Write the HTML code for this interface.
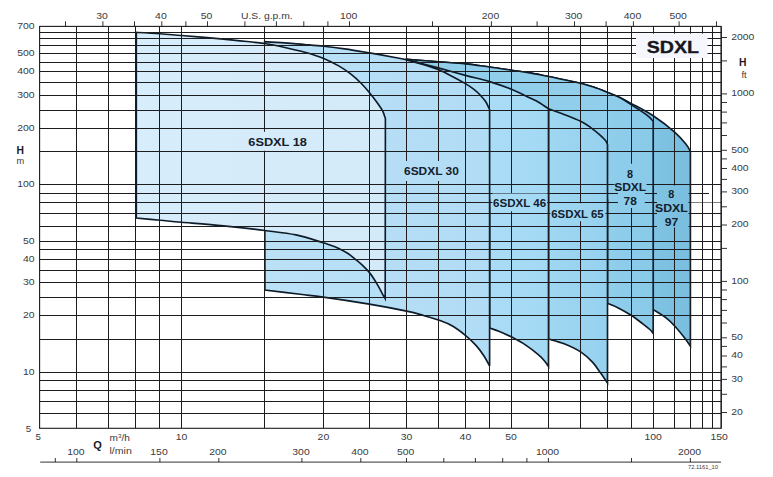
<!DOCTYPE html><html><head><meta charset="utf-8"><style>html,body{margin:0;padding:0;background:#fff}body{width:773px;height:477px;overflow:hidden;position:relative;font-family:"Liberation Sans",sans-serif}</style></head><body><svg width="773" height="477" viewBox="0 0 773 477" style="position:absolute;left:0;top:0">
<defs>
<path id="r97" d="M406.6,59.4 C411.9,59.8 428.4,61.0 438.2,61.7 C448.0,62.5 456.8,63.0 465.4,63.9 C473.9,64.8 481.8,66.0 489.5,67.0 C497.2,68.0 504.8,69.2 511.5,70.2 C518.2,71.2 523.8,71.9 530.0,72.9 C536.2,74.0 542.8,75.4 548.5,76.5 C554.2,77.6 558.6,78.6 564.0,79.7 C569.4,80.8 575.6,82.0 580.6,83.3 C585.6,84.6 589.7,85.8 594.2,87.3 C598.7,88.8 603.6,90.8 607.7,92.4 C611.8,94.0 614.7,95.2 618.7,97.1 C622.7,99.0 625.8,100.5 631.5,103.6 C637.2,106.7 646.0,111.0 653.2,115.8 C660.4,120.6 669.4,127.5 674.9,132.3 C680.4,137.1 683.6,141.3 686.2,144.5 C688.8,147.7 689.7,150.3 690.4,151.5 L690.4,346.2 C689.4,344.8 686.9,340.8 684.3,337.5 C681.7,334.2 678.0,329.6 674.9,326.2 C671.8,322.8 669.1,320.2 665.5,317.4 C661.9,314.6 655.2,310.9 653.2,309.6 L653.2,200.0 L406.6,200.0 Z"/>
<path id="r78" d="M406.6,59.4 C411.9,59.8 428.4,61.0 438.2,61.7 C448.0,62.5 456.8,63.0 465.4,63.9 C473.9,64.8 481.8,66.0 489.5,67.0 C497.2,68.0 504.8,69.2 511.5,70.2 C518.2,71.2 523.8,71.9 530.0,72.9 C536.2,74.0 542.8,75.4 548.5,76.5 C554.2,77.6 558.6,78.6 564.0,79.7 C569.4,80.8 575.6,82.0 580.6,83.3 C585.6,84.6 589.7,85.8 594.2,87.3 C598.7,88.8 603.6,90.8 607.7,92.4 C611.8,94.0 614.7,95.0 618.7,97.1 C622.7,99.2 626.9,101.9 631.5,104.9 C636.1,107.9 643.0,112.2 646.6,114.9 C650.2,117.6 652.1,120.2 653.2,121.2 L653.2,333.5 C652.7,332.9 652.1,331.6 650.4,330.0 C648.7,328.4 645.9,326.2 642.8,323.8 C639.6,321.4 635.6,318.1 631.5,315.5 C627.4,312.9 622.3,309.9 618.3,307.9 C614.3,305.9 609.3,304.1 607.5,303.4 L607.5,200.0 L406.6,200.0 Z"/>
<path id="r65" d="M548.5,108.8 C551.1,109.7 558.6,112.3 564.0,114.4 C569.4,116.5 576.2,119.1 580.6,121.2 C585.0,123.3 587.2,125.0 590.4,127.3 C593.6,129.6 597.3,132.6 599.8,134.8 C602.3,137.0 604.2,138.9 605.5,140.5 C606.8,142.1 607.2,143.9 607.5,144.6 L607.5,383.0 C606.3,381.3 602.9,376.2 600.4,372.8 C597.9,369.4 595.9,365.8 592.7,362.4 C589.5,358.9 585.8,355.2 581.0,352.1 C576.2,349.0 569.6,346.0 564.2,343.8 C558.8,341.6 551.1,339.8 548.5,339.0 L548.5,200.0 Z"/>
<path id="r46" d="M406.6,59.4 C409.0,60.0 415.7,61.9 421.0,63.3 C426.3,64.7 430.8,65.9 438.2,67.9 C445.6,69.9 456.8,73.1 465.4,75.4 C473.9,77.7 481.8,79.3 489.5,81.6 C497.2,83.9 504.8,86.6 511.5,89.3 C518.2,92.0 525.4,95.8 530.0,98.0 C534.6,100.2 536.3,100.9 539.4,102.7 C542.5,104.5 547.0,107.8 548.5,108.8 L548.5,366.5 C547.9,365.6 546.5,363.2 544.8,361.2 C543.1,359.2 541.5,357.4 538.3,354.7 C535.1,352.0 529.8,347.8 525.4,344.9 C521.0,342.0 516.0,339.4 511.7,337.1 C507.4,334.9 503.2,332.9 499.5,331.4 C495.8,329.9 491.2,328.6 489.6,328.0 L489.6,200.0 L406.6,200.0 Z"/>
<path id="r30" d="M264.6,41.6 C268.0,41.8 278.2,42.4 284.9,42.9 C291.6,43.4 298.3,43.9 304.8,44.5 C311.3,45.1 317.1,45.6 323.7,46.3 C330.3,47.0 337.0,47.8 344.6,48.9 C352.2,50.0 361.1,51.5 369.5,52.9 C377.9,54.3 388.8,56.3 395.0,57.5 C401.2,58.7 402.3,58.8 406.6,59.9 C410.9,61.0 417.1,62.9 421.0,64.0 C424.9,65.1 427.1,65.7 430.0,66.6 C432.9,67.5 434.8,68.1 438.2,69.6 C441.6,71.1 445.9,73.1 450.4,75.4 C454.9,77.7 461.5,81.3 465.4,83.6 C469.3,85.9 471.1,87.2 473.6,89.1 C476.1,91.0 478.3,93.0 480.4,95.2 C482.4,97.4 484.4,99.6 485.9,102.0 C487.4,104.4 489.0,108.2 489.6,109.5 L489.6,366.0 C488.7,364.3 486.2,359.4 484.0,356.0 C481.8,352.6 479.3,349.1 476.2,345.6 C473.1,342.2 469.3,338.5 465.4,335.3 C461.5,332.1 457.1,328.7 452.9,326.2 C448.7,323.7 444.8,322.2 440.0,320.5 C435.2,318.8 429.8,317.3 424.2,315.7 C418.6,314.1 415.8,313.0 406.6,311.1 C397.5,309.2 383.2,306.4 369.3,304.1 C355.4,301.8 334.9,298.7 323.3,297.1 C311.8,295.5 309.7,295.5 300.0,294.3 C290.3,293.1 270.8,290.7 264.9,290.0 Z"/>
<path id="r18" d="M136.3,32.4 C140.3,32.6 152.6,33.2 160.1,33.7 C167.6,34.2 171.0,34.6 181.6,35.5 C192.2,36.4 211.3,38.0 223.5,39.1 C235.7,40.2 248.2,41.7 255.0,42.4 C261.9,43.1 259.6,42.6 264.6,43.5 C269.6,44.4 278.2,46.0 284.9,47.5 C291.6,49.0 298.3,50.5 304.8,52.3 C311.3,54.1 318.1,56.2 323.7,58.5 C329.3,60.8 334.2,63.4 338.7,65.9 C343.2,68.5 347.0,71.0 350.6,73.8 C354.2,76.6 357.5,79.6 360.6,82.8 C363.8,86.0 366.9,89.5 369.5,92.7 C372.1,95.9 374.3,98.7 376.5,101.7 C378.7,104.7 381.0,107.9 382.5,110.7 C384.0,113.5 384.9,117.2 385.4,118.5 L385.2,298.6 C384.7,297.7 383.2,295.4 382.1,293.4 C381.0,291.4 379.8,288.8 378.4,286.4 C377.0,284.0 375.5,281.3 374.0,279.0 C372.5,276.7 371.2,274.7 369.3,272.4 C367.4,270.1 364.7,267.4 362.3,265.1 C359.9,262.8 357.3,260.8 354.9,258.8 C352.4,256.8 350.3,255.0 347.6,253.3 C344.9,251.6 341.7,249.9 338.8,248.5 C335.9,247.1 332.6,245.9 330.0,245.0 C327.4,244.1 329.0,244.5 323.3,242.8 C317.6,241.1 305.7,237.0 296.0,234.9 C286.3,232.8 277.0,232.0 264.9,230.5 C252.8,229.0 237.4,227.3 223.5,225.9 C209.6,224.5 192.2,223.2 181.6,222.3 C171.0,221.4 167.6,220.9 160.1,220.2 C152.6,219.5 140.3,218.4 136.3,218.1 Z"/>
<clipPath id="cr18"><rect x="245.0" y="131.8" width="67.0" height="19.0"/></clipPath>
<clipPath id="cr30"><rect x="401.5" y="161.0" width="60.0" height="20.0"/></clipPath>
<clipPath id="cr46"><rect x="492.5" y="193.6" width="54.6" height="17.6"/></clipPath>
<clipPath id="cr65"><rect x="550.4" y="203.3" width="55.0" height="18.0"/></clipPath>
<clipPath id="cr78"><rect x="618.0" y="163.7" width="26.8" height="44.2"/><rect x="614.5" y="181.0" width="32.0" height="11.6"/></clipPath>
<clipPath id="cr97"><rect x="657.0" y="185.4" width="31.5" height="42.0"/></clipPath>
<linearGradient id="gr18" gradientUnits="userSpaceOnUse" x1="136" y1="0" x2="385" y2="0"><stop offset="0" stop-color="#d8edfb"/><stop offset="1" stop-color="#d3eaf9"/></linearGradient>
<linearGradient id="gr30" gradientUnits="userSpaceOnUse" x1="264" y1="0" x2="490" y2="0"><stop offset="0" stop-color="#bbe1f7"/><stop offset="1" stop-color="#b1dcf5"/></linearGradient>
<linearGradient id="gr46" gradientUnits="userSpaceOnUse" x1="490" y1="0" x2="548" y2="0"><stop offset="0" stop-color="#abdcf6"/><stop offset="1" stop-color="#a2d9f4"/></linearGradient>
<linearGradient id="gr65" gradientUnits="userSpaceOnUse" x1="548" y1="0" x2="607" y2="0"><stop offset="0" stop-color="#a0d7f2"/><stop offset="1" stop-color="#95d1ee"/></linearGradient>
<linearGradient id="gr78" gradientUnits="userSpaceOnUse" x1="607" y1="0" x2="653" y2="0"><stop offset="0" stop-color="#90ceeb"/><stop offset="1" stop-color="#89cae9"/></linearGradient>
<linearGradient id="gr97" gradientUnits="userSpaceOnUse" x1="653" y1="0" x2="690" y2="0"><stop offset="0" stop-color="#80c3e2"/><stop offset="1" stop-color="#79bedf"/></linearGradient>
</defs>
<rect width="773" height="477" fill="#fff"/>
<use href="#r97" fill="url(#gr97)" stroke="#0e1c2a" stroke-width="1.65" stroke-linejoin="miter"/>
<use href="#r78" fill="url(#gr78)" stroke="#0e1c2a" stroke-width="1.65" stroke-linejoin="miter"/>
<use href="#r65" fill="url(#gr65)" stroke="#0e1c2a" stroke-width="1.65" stroke-linejoin="miter"/>
<use href="#r46" fill="url(#gr46)" stroke="#0e1c2a" stroke-width="1.65" stroke-linejoin="miter"/>
<use href="#r30" fill="url(#gr30)" stroke="#0e1c2a" stroke-width="1.65" stroke-linejoin="miter"/>
<use href="#r18" fill="url(#gr18)" stroke="#0e1c2a" stroke-width="1.65" stroke-linejoin="miter"/>
<path d="M39.6,32.2H721.2M39.6,38.8H721.2M39.6,45.8H721.2M39.6,53.6H721.2M39.6,62.2H721.2M39.6,71.8H721.2M39.6,82.6H721.2M39.6,95.2H721.2M39.6,110.0H721.2M39.6,128.2H721.2M39.6,151.6H721.2M39.6,184.7H721.2M39.6,193.2H721.2M39.6,202.8H721.2M39.6,213.7H721.2M39.6,226.3H721.2M39.6,241.1H721.2M39.6,249.7H721.2M39.6,259.3H721.2M39.6,270.1H721.2M39.6,282.7H721.2M39.6,297.5H721.2M39.6,315.7H721.2M39.6,339.1H721.2M39.6,372.2H721.2M39.6,380.7H721.2M39.6,390.3H721.2M39.6,401.2H721.2M39.6,413.8H721.2" stroke="#1c1c1e" stroke-width="1" fill="none" shape-rendering="crispEdges"/>
<rect x="709" y="192" width="11.6" height="2.4" fill="#fff"/>
<rect x="691.4" y="201.6" width="29.2" height="2.4" fill="#fff" fill-opacity="0.45"/>
<path d="M76.8,26.4V428.3M108.4,26.4V428.3M135.8,26.4V428.3M159.9,26.4V428.3M181.5,26.4V428.3M264.5,26.4V428.3M323.4,26.4V428.3M369.1,26.4V428.3M406.5,26.4V428.3M438.0,26.4V428.3M465.4,26.4V428.3M489.5,26.4V428.3M511.1,26.4V428.3M548.4,26.4V428.3M580.0,26.4V428.3M607.4,26.4V428.3M631.5,26.4V428.3M653.1,26.4V428.3M674.9,26.4V428.3M690.5,26.4V428.3M702.6,26.4V428.3M712.1,26.4V428.3" stroke="#1c1c1e" stroke-width="1" fill="none" shape-rendering="crispEdges"/>
<rect x="39.6" y="26.4" width="681.6" height="401.9" fill="none" stroke="#1c1c1e" stroke-width="1.1"/>
<use href="#r18" fill="url(#gr18)" clip-path="url(#cr18)"/>
<use href="#r30" fill="url(#gr30)" clip-path="url(#cr30)"/>
<use href="#r46" fill="url(#gr46)" clip-path="url(#cr46)"/>
<use href="#r65" fill="url(#gr65)" clip-path="url(#cr65)"/>
<use href="#r78" fill="url(#gr78)" clip-path="url(#cr78)"/>
<use href="#r97" fill="url(#gr97)" clip-path="url(#cr97)"/>
<path d="M721.2,26.4V428.3" stroke="#1c1c1e" stroke-width="1.1"/>
<rect x="636" y="33.6" width="71.5" height="24.4" fill="#f5f7fc"/>
<path d="M65.5,21.3V26.4M102.9,21.3V26.4M134.5,21.3V26.4M161.8,21.3V26.4M185.9,21.3V26.4M207.5,21.3V26.4M244.9,21.3V26.4M276.4,21.3V26.4M303.8,21.3V26.4M327.9,21.3V26.4M349.5,21.3V26.4M432.5,21.3V26.4M491.4,21.3V26.4M537.1,21.3V26.4M574.5,21.3V26.4M606.1,21.3V26.4M633.4,21.3V26.4M679.1,21.3V26.4M716.5,21.3V26.4M721.2,37.5H727.0M721.2,60.9H727.0M721.2,93.9H727.0M721.2,102.5H727.0M721.2,112.1H727.0M721.2,122.9H727.0M721.2,135.5H727.0M721.2,150.3H727.0M721.2,158.9H727.0M721.2,168.5H727.0M721.2,179.4H727.0M721.2,191.9H727.0M721.2,206.8H727.0M721.2,225.0H727.0M721.2,248.4H727.0M721.2,281.4H727.0M721.2,290.0H727.0M721.2,299.6H727.0M721.2,310.4H727.0M721.2,323.0H727.0M721.2,337.8H727.0M721.2,346.4H727.0M721.2,356.0H727.0M721.2,366.9H727.0M721.2,379.4H727.0M721.2,394.3H727.0M721.2,412.5H727.0M40.2,462.1H721.0M55.3,458.0V462.1M76.8,458.0V462.1M159.9,458.0V462.1M218.8,458.0V462.1M301.9,458.0V462.1M360.8,458.0V462.1M406.5,458.0V462.1M443.8,458.0V462.1M475.4,458.0V462.1M502.7,458.0V462.1M526.9,458.0V462.1M548.4,458.0V462.1M631.5,458.0V462.1M690.4,458.0V462.1" stroke="#1c1c1e" stroke-width="0.9" fill="none"/>
<g font-family="Liberation Sans, sans-serif">
<text x="34.6" y="28.8" font-size="9.7" font-weight="normal" fill="#3a3a40" text-anchor="end" textLength="17.4" lengthAdjust="spacingAndGlyphs">700</text>
<text x="34.6" y="56.2" font-size="9.7" font-weight="normal" fill="#3a3a40" text-anchor="end" textLength="17.4" lengthAdjust="spacingAndGlyphs">500</text>
<text x="34.6" y="74.4" font-size="9.7" font-weight="normal" fill="#3a3a40" text-anchor="end" textLength="17.4" lengthAdjust="spacingAndGlyphs">400</text>
<text x="34.6" y="97.8" font-size="9.7" font-weight="normal" fill="#3a3a40" text-anchor="end" textLength="17.4" lengthAdjust="spacingAndGlyphs">300</text>
<text x="34.6" y="130.8" font-size="9.7" font-weight="normal" fill="#3a3a40" text-anchor="end" textLength="17.4" lengthAdjust="spacingAndGlyphs">200</text>
<text x="34.6" y="187.3" font-size="9.7" font-weight="normal" fill="#3a3a40" text-anchor="end" textLength="17.4" lengthAdjust="spacingAndGlyphs">100</text>
<text x="34.6" y="243.7" font-size="9.7" font-weight="normal" fill="#3a3a40" text-anchor="end" textLength="11.6" lengthAdjust="spacingAndGlyphs">50</text>
<text x="34.6" y="261.9" font-size="9.7" font-weight="normal" fill="#3a3a40" text-anchor="end" textLength="11.6" lengthAdjust="spacingAndGlyphs">40</text>
<text x="34.6" y="285.3" font-size="9.7" font-weight="normal" fill="#3a3a40" text-anchor="end" textLength="11.6" lengthAdjust="spacingAndGlyphs">30</text>
<text x="34.6" y="318.3" font-size="9.7" font-weight="normal" fill="#3a3a40" text-anchor="end" textLength="11.6" lengthAdjust="spacingAndGlyphs">20</text>
<text x="34.6" y="374.8" font-size="9.7" font-weight="normal" fill="#3a3a40" text-anchor="end" textLength="11.6" lengthAdjust="spacingAndGlyphs">10</text>
<text x="31.2" y="431.6" font-size="9.7" font-weight="normal" fill="#3a3a40" text-anchor="end">5</text>
<text x="731.2" y="39.5" font-size="9.7" font-weight="normal" fill="#3a3a40" text-anchor="start" textLength="23.2" lengthAdjust="spacingAndGlyphs">2000</text>
<text x="731.2" y="96.2" font-size="9.7" font-weight="normal" fill="#3a3a40" text-anchor="start" textLength="23.2" lengthAdjust="spacingAndGlyphs">1000</text>
<text x="731.2" y="152.6" font-size="9.7" font-weight="normal" fill="#3a3a40" text-anchor="start" textLength="17.4" lengthAdjust="spacingAndGlyphs">500</text>
<text x="731.2" y="170.8" font-size="9.7" font-weight="normal" fill="#3a3a40" text-anchor="start" textLength="17.4" lengthAdjust="spacingAndGlyphs">400</text>
<text x="731.2" y="194.2" font-size="9.7" font-weight="normal" fill="#3a3a40" text-anchor="start" textLength="17.4" lengthAdjust="spacingAndGlyphs">300</text>
<text x="731.2" y="227.3" font-size="9.7" font-weight="normal" fill="#3a3a40" text-anchor="start" textLength="17.4" lengthAdjust="spacingAndGlyphs">200</text>
<text x="731.2" y="283.7" font-size="9.7" font-weight="normal" fill="#3a3a40" text-anchor="start" textLength="17.4" lengthAdjust="spacingAndGlyphs">100</text>
<text x="731.2" y="340.1" font-size="9.7" font-weight="normal" fill="#3a3a40" text-anchor="start" textLength="11.6" lengthAdjust="spacingAndGlyphs">50</text>
<text x="731.2" y="358.3" font-size="9.7" font-weight="normal" fill="#3a3a40" text-anchor="start" textLength="11.6" lengthAdjust="spacingAndGlyphs">40</text>
<text x="731.2" y="381.7" font-size="9.7" font-weight="normal" fill="#3a3a40" text-anchor="start" textLength="11.6" lengthAdjust="spacingAndGlyphs">30</text>
<text x="731.2" y="414.8" font-size="9.7" font-weight="normal" fill="#3a3a40" text-anchor="start" textLength="11.6" lengthAdjust="spacingAndGlyphs">20</text>
<text x="102.0" y="19.0" font-size="9.7" font-weight="normal" fill="#3a3a40" text-anchor="middle" textLength="11.6" lengthAdjust="spacingAndGlyphs">30</text>
<text x="160.9" y="19.0" font-size="9.7" font-weight="normal" fill="#3a3a40" text-anchor="middle" textLength="11.6" lengthAdjust="spacingAndGlyphs">40</text>
<text x="206.6" y="19.0" font-size="9.7" font-weight="normal" fill="#3a3a40" text-anchor="middle" textLength="11.6" lengthAdjust="spacingAndGlyphs">50</text>
<text x="348.6" y="19.0" font-size="9.7" font-weight="normal" fill="#3a3a40" text-anchor="middle" textLength="17.4" lengthAdjust="spacingAndGlyphs">100</text>
<text x="490.5" y="19.0" font-size="9.7" font-weight="normal" fill="#3a3a40" text-anchor="middle" textLength="17.4" lengthAdjust="spacingAndGlyphs">200</text>
<text x="573.6" y="19.0" font-size="9.7" font-weight="normal" fill="#3a3a40" text-anchor="middle" textLength="17.4" lengthAdjust="spacingAndGlyphs">300</text>
<text x="632.5" y="19.0" font-size="9.7" font-weight="normal" fill="#3a3a40" text-anchor="middle" textLength="17.4" lengthAdjust="spacingAndGlyphs">400</text>
<text x="678.2" y="19.0" font-size="9.7" font-weight="normal" fill="#3a3a40" text-anchor="middle" textLength="17.4" lengthAdjust="spacingAndGlyphs">500</text>
<text x="266.8" y="19.0" font-size="9.7" font-weight="normal" fill="#3a3a40" text-anchor="middle" textLength="51.7" lengthAdjust="spacingAndGlyphs">U.S. g.p.m.</text>
<text x="181.5" y="440.0" font-size="9.7" font-weight="normal" fill="#3a3a40" text-anchor="middle" textLength="11.6" lengthAdjust="spacingAndGlyphs">10</text>
<text x="323.4" y="440.0" font-size="9.7" font-weight="normal" fill="#3a3a40" text-anchor="middle" textLength="11.6" lengthAdjust="spacingAndGlyphs">20</text>
<text x="406.5" y="440.0" font-size="9.7" font-weight="normal" fill="#3a3a40" text-anchor="middle" textLength="11.6" lengthAdjust="spacingAndGlyphs">30</text>
<text x="465.4" y="440.0" font-size="9.7" font-weight="normal" fill="#3a3a40" text-anchor="middle" textLength="11.6" lengthAdjust="spacingAndGlyphs">40</text>
<text x="511.1" y="440.0" font-size="9.7" font-weight="normal" fill="#3a3a40" text-anchor="middle" textLength="11.6" lengthAdjust="spacingAndGlyphs">50</text>
<text x="653.1" y="440.0" font-size="9.7" font-weight="normal" fill="#3a3a40" text-anchor="middle" textLength="17.4" lengthAdjust="spacingAndGlyphs">100</text>
<text x="38.2" y="440.0" font-size="9.7" font-weight="normal" fill="#3a3a40" text-anchor="middle">5</text>
<text x="719.2" y="440.0" font-size="9.7" font-weight="normal" fill="#3a3a40" text-anchor="middle" textLength="17.4" lengthAdjust="spacingAndGlyphs">150</text>
<text x="75.9" y="455.3" font-size="9.7" font-weight="normal" fill="#3a3a40" text-anchor="middle" textLength="17.4" lengthAdjust="spacingAndGlyphs">100</text>
<text x="159.0" y="455.3" font-size="9.7" font-weight="normal" fill="#3a3a40" text-anchor="middle" textLength="17.4" lengthAdjust="spacingAndGlyphs">150</text>
<text x="217.9" y="455.3" font-size="9.7" font-weight="normal" fill="#3a3a40" text-anchor="middle" textLength="17.4" lengthAdjust="spacingAndGlyphs">200</text>
<text x="301.0" y="455.3" font-size="9.7" font-weight="normal" fill="#3a3a40" text-anchor="middle" textLength="17.4" lengthAdjust="spacingAndGlyphs">300</text>
<text x="359.9" y="455.3" font-size="9.7" font-weight="normal" fill="#3a3a40" text-anchor="middle" textLength="17.4" lengthAdjust="spacingAndGlyphs">400</text>
<text x="405.6" y="455.3" font-size="9.7" font-weight="normal" fill="#3a3a40" text-anchor="middle" textLength="17.4" lengthAdjust="spacingAndGlyphs">500</text>
<text x="547.5" y="455.3" font-size="9.7" font-weight="normal" fill="#3a3a40" text-anchor="middle" textLength="23.2" lengthAdjust="spacingAndGlyphs">1000</text>
<text x="689.5" y="455.3" font-size="9.7" font-weight="normal" fill="#3a3a40" text-anchor="middle" textLength="23.2" lengthAdjust="spacingAndGlyphs">2000</text>
<text x="93.2" y="449.0" font-size="11.0" font-weight="bold" fill="#1a1a1e" text-anchor="start">Q</text>
<text x="109.5" y="441.0" font-size="9.6" font-weight="normal" fill="#3a3a40" text-anchor="start" textLength="20.4" lengthAdjust="spacingAndGlyphs">m<tspan font-size="6" dy="-3">3</tspan><tspan dy="3">/h</tspan></text>
<text x="109.5" y="453.8" font-size="9.6" font-weight="normal" fill="#3a3a40" text-anchor="start" textLength="22.3" lengthAdjust="spacingAndGlyphs">l/min</text>
<text x="16.4" y="153.5" font-size="10.3" font-weight="bold" fill="#1a1a1e" text-anchor="start">H</text>
<text x="16.6" y="164.2" font-size="9.3" font-weight="normal" fill="#3a3a40" text-anchor="start">m</text>
<text x="739.0" y="65.6" font-size="10.3" font-weight="bold" fill="#1a1a1e" text-anchor="start">H</text>
<text x="741.5" y="77.5" font-size="9.3" font-weight="normal" fill="#3a3a40" text-anchor="start">ft</text>
<text x="703.0" y="468.5" font-size="4.8" font-weight="normal" fill="#3a3a40" text-anchor="middle" textLength="30.0" lengthAdjust="spacingAndGlyphs">72.1161_10</text>
<text x="248.3" y="145.6" font-size="10.8" font-weight="bold" fill="#14202c" text-anchor="start" textLength="58.6" lengthAdjust="spacingAndGlyphs">6SDXL 18</text>
<text x="404.0" y="174.8" font-size="10.8" font-weight="bold" fill="#14202c" text-anchor="start" textLength="54.8" lengthAdjust="spacingAndGlyphs">6SDXL 30</text>
<text x="493.0" y="206.8" font-size="10.8" font-weight="bold" fill="#14202c" text-anchor="start" textLength="53.1" lengthAdjust="spacingAndGlyphs">6SDXL 46</text>
<text x="551.2" y="218.0" font-size="10.8" font-weight="bold" fill="#14202c" text-anchor="start" textLength="52.5" lengthAdjust="spacingAndGlyphs">6SDXL 65</text>
<text x="629.9" y="178.0" font-size="10.8" font-weight="bold" fill="#14202c" text-anchor="middle">8</text>
<text x="630.2" y="190.6" font-size="10.8" font-weight="bold" fill="#14202c" text-anchor="middle" textLength="32.0" lengthAdjust="spacingAndGlyphs">SDXL</text>
<text x="630.2" y="204.7" font-size="10.8" font-weight="bold" fill="#14202c" text-anchor="middle" textLength="13.2" lengthAdjust="spacingAndGlyphs">78</text>
<text x="671.3" y="197.7" font-size="10.8" font-weight="bold" fill="#14202c" text-anchor="middle">8</text>
<text x="671.4" y="211.9" font-size="10.8" font-weight="bold" fill="#14202c" text-anchor="middle" textLength="32.7" lengthAdjust="spacingAndGlyphs">SDXL</text>
<text x="671.4" y="226.0" font-size="10.8" font-weight="bold" fill="#14202c" text-anchor="middle" textLength="13.5" lengthAdjust="spacingAndGlyphs">97</text>
<text x="672.9" y="52.6" font-size="17.2" font-weight="bold" fill="#16161c" text-anchor="middle" textLength="52.2" lengthAdjust="spacingAndGlyphs" stroke="#16161c" stroke-width="0.35">SDXL</text>
</g>
</svg></body></html>
